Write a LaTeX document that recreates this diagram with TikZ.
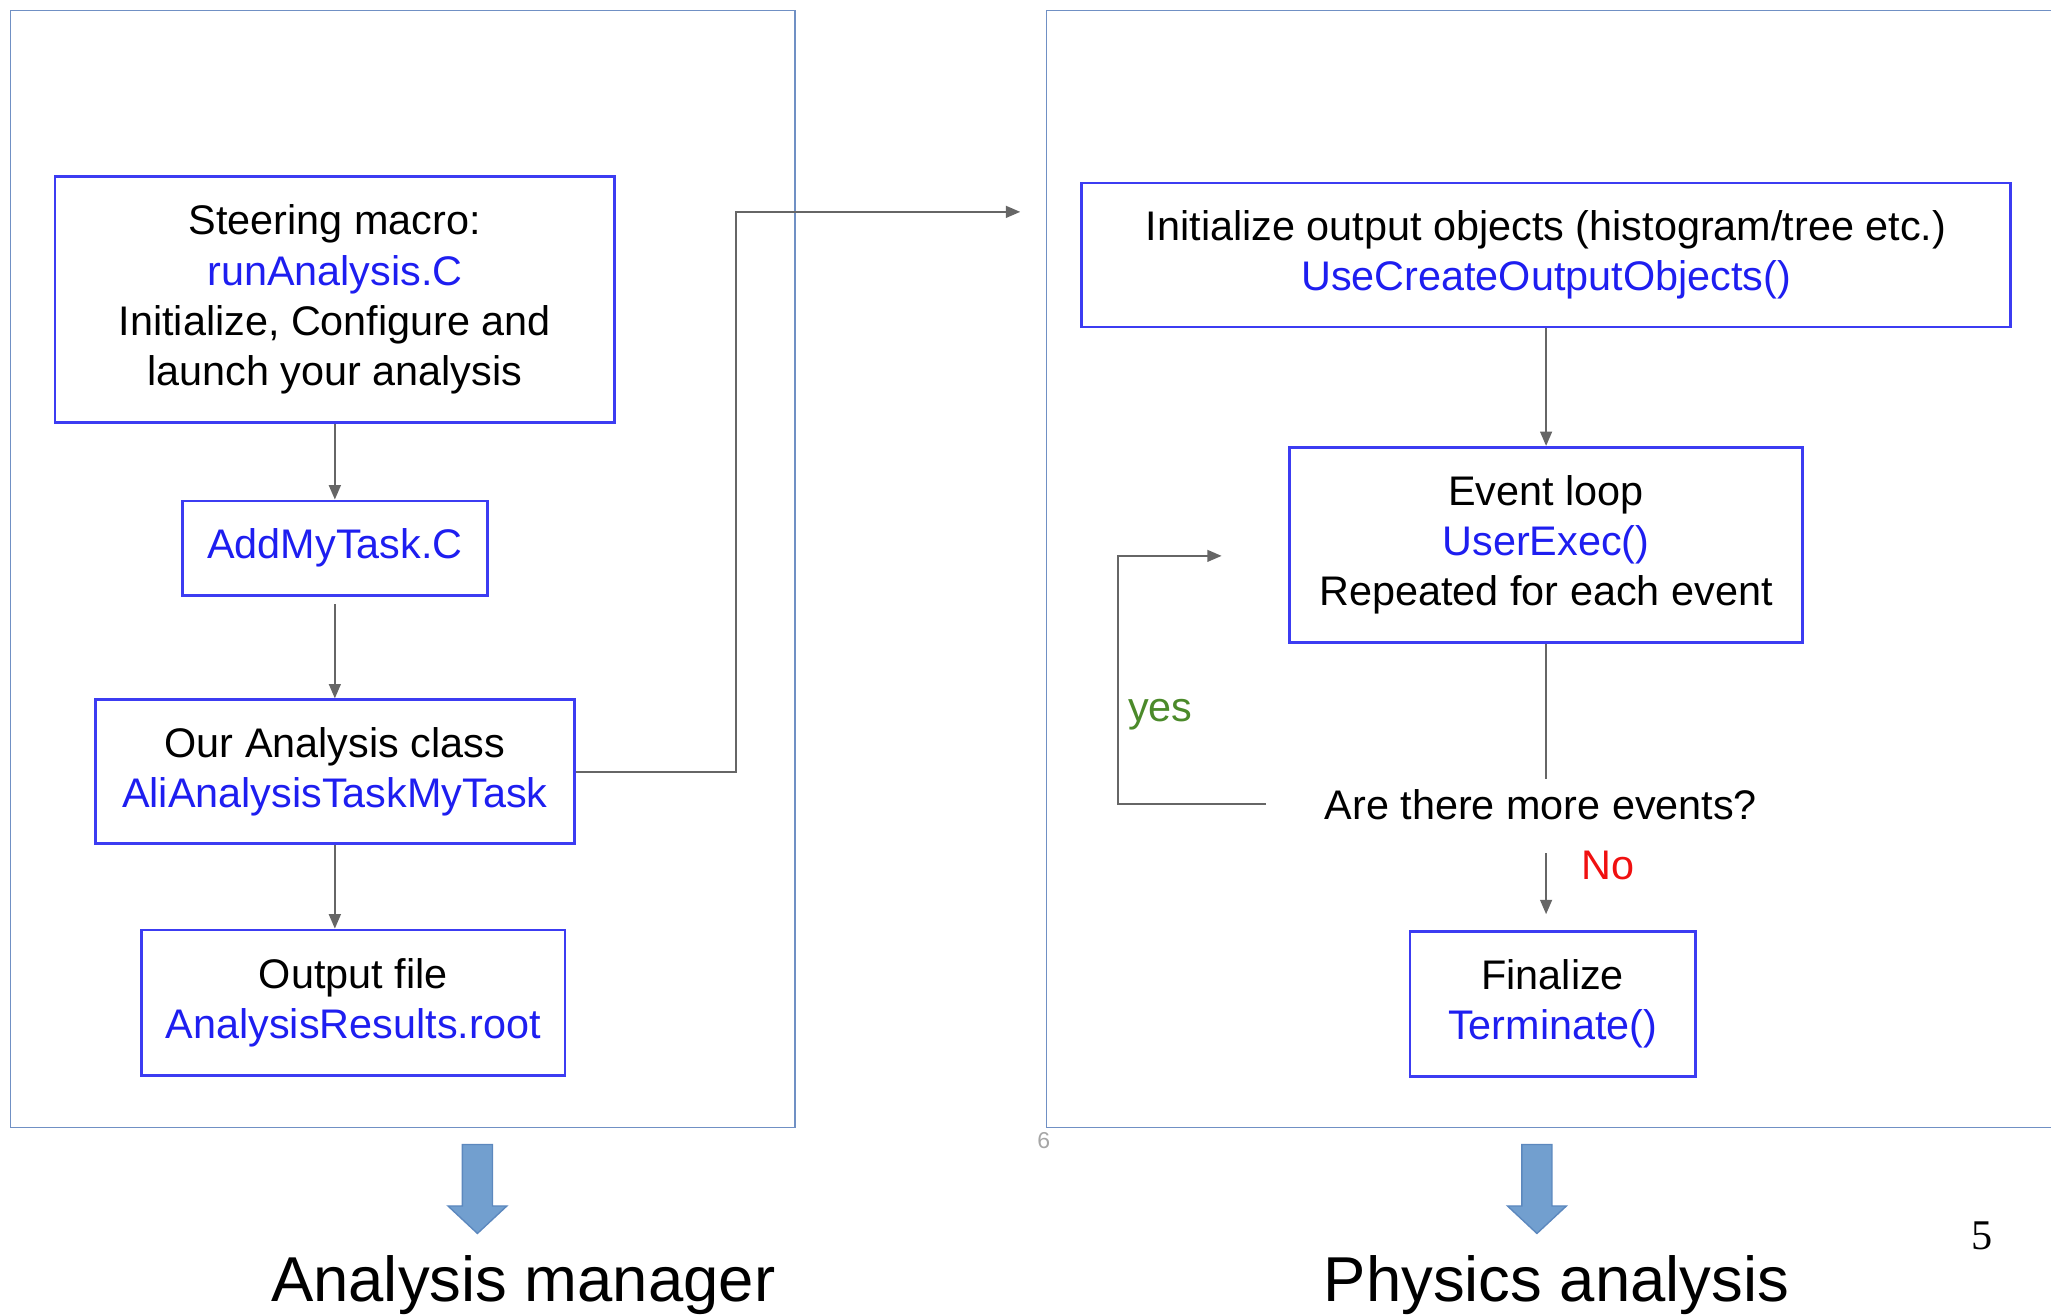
\documentclass[tikz,border=0pt]{standalone}
\usepackage{fontspec}
\setmainfont{Liberation Sans}
\newfontfamily\pageNumFont{Liberation Serif}
\usetikzlibrary{arrows.meta,positioning}
\definecolor{flowBlue}{HTML}{3C3CF2}
\definecolor{codeBlue}{HTML}{1E1EF0}
\definecolor{panelBlue}{HTML}{7090C4}
\definecolor{flowGray}{HTML}{666666}
\definecolor{yesGreen}{HTML}{4B8A2A}
\definecolor{noRed}{HTML}{F01010}
\definecolor{bigArrowFill}{HTML}{729FCF}
\definecolor{bigArrowEdge}{HTML}{5C88BE}
\tikzset{
  flowBox/.style={
    draw=flowBlue,
    line width=0.6pt,
    align=center,
    inner sep=0pt,
    font=\fontsize{9}{10.95}\selectfont
  },
  flowArrow/.style={-{Triangle[length=1.1mm,width=0.9mm]}, line width=0.45pt, flowGray},
  flowLine/.style={line width=0.45pt, flowGray},
  panelFrame/.style={draw=panelBlue, line width=0.4pt},
  plainText/.style={font=\fontsize{9}{10.95}\selectfont, inner sep=0pt},
  sectionLabel/.style={font=\fontsize{13.8}{16}\selectfont, anchor=base, inner sep=0pt},
  bigArrow/.style={fill=bigArrowFill, draw=bigArrowEdge, line width=0.3pt}
}
\begin{document}
\begin{tikzpicture}[x=0.1mm,y=-0.1mm]
  \useasboundingbox (0,0) rectangle (1568,1005);

  % panels
  \draw[panelFrame] (8,8) rectangle (608,862);
  \draw[panelFrame] (1568,8) -- (800,8) -- (800,862) -- (1568,862);

  % analysis manager side
  \node[flowBox, minimum width=42.8mm, minimum height=18.8mm]
    (steer) at (256,229)
    {Steering macro:\\
    \textcolor{codeBlue}{runAnalysis.C}\\
    Initialize, Configure and\\
    launch your analysis};
  \node[flowBox, minimum width=23.3mm, minimum height=7.2mm]
    (addTask) at (256,419)
    {\textcolor{codeBlue}{AddMyTask.C}};
  \node[flowBox, minimum width=36.6mm, minimum height=11mm]
    (ourClass) at (256,590)
    {Our Analysis class\\
    \textcolor{codeBlue}{AliAnalysisTaskMyTask}};
  \node[flowBox, minimum width=32.4mm, minimum height=11.1mm]
    (outputFile) at (270,766.5)
    {Output file\\
    \textcolor{codeBlue}{AnalysisResults.root}};

  \draw[flowArrow] (steer) -- (addTask);
  \draw[flowArrow, shorten <=0.6mm] (addTask) -- (ourClass);
  \draw[flowArrow] (ourClass.south) -- (ourClass.south |- outputFile.north);
  \coordinate (launchBend) at (563,162);
  \coordinate (launchEnd) at (780,162);
  \draw[flowArrow] (ourClass.east) -| (launchBend) -- (launchEnd);

  % physics analysis side
  \node[flowBox, minimum width=71mm, minimum height=11mm]
    (initOut) at (1182,195)
    {Initialize output objects (histogram/tree etc.)\\
    \textcolor{codeBlue}{UseCreateOutputObjects()}};
  \node[flowBox, minimum width=39.2mm, minimum height=14.9mm]
    (eventLoop) at (1182,416.5)
    {Event loop\\
    \textcolor{codeBlue}{UserExec()}\\
    Repeated for each event};
  \node[plainText] (moreEvents) at (1178,615) {Are there more events?};
  \node[flowBox, minimum width=21.8mm, minimum height=11.1mm]
    (finalize) at (1187,767.5)
    {Finalize\\
    \textcolor{codeBlue}{Terminate()}};

  \draw[flowArrow] (initOut) -- (eventLoop);
  \draw[flowLine, shorten >=0.7mm] (eventLoop.south) -- (eventLoop.south |- moreEvents.north);
  \draw[flowArrow, shorten <=2.5mm, shorten >=1.2mm]
    (eventLoop.south |- moreEvents.south) -- (eventLoop.south |- finalize.north);
  \draw[flowArrow, shorten <=4.4mm, shorten >=5.1mm]
    (moreEvents.west) -- ++(-157,0) |- ([yshift=-0.85mm]eventLoop.west);
  \node[plainText, text=yesGreen] (yesLabel) at (887,546) {yes};
  \node[plainText, text=noRed] (noLabel) at (1229,662) {No};

  % big arrows and captions
  \foreach \cx in {365,1175} {
    \draw[bigArrow] (\cx-11.5,875) -- (\cx+11.5,875) -- (\cx+11.5,922)
      -- (\cx+22.5,922) -- (\cx,943) -- (\cx-22.5,922) -- (\cx-11.5,922) -- cycle;
  }
  \node[sectionLabel] (managerLabel) at (400,995) {Analysis manager};
  \node[sectionLabel] (physicsLabel) at (1190,995) {Physics analysis};
  \node[font=\pageNumFont\fontsize{9.2}{11}\selectfont, anchor=base, inner sep=0pt]
    (pageNum) at (1515,955) {5};
  \node[font=\fontsize{5}{6}\selectfont, text=gray!70, inner sep=0pt]
    (slideNum) at (798,872) {6};
\end{tikzpicture}
\end{document}
